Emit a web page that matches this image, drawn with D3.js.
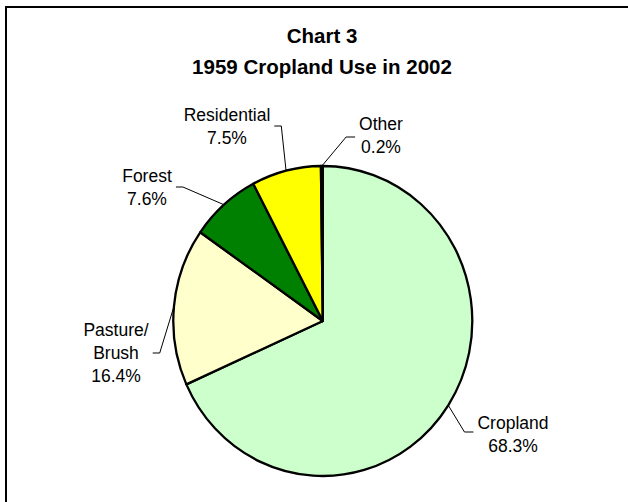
<!DOCTYPE html>
<html>
<head>
<meta charset="utf-8">
<script src="https://cdn.jsdelivr.net/npm/d3@7"></script>
<style>
  html, body { margin: 0; padding: 0; background: #fff; }
  svg { display: block; }
</style>
</head>
<body>
<svg id="chart" width="628" height="502"></svg>
<script>
// ---- Data ----
const categories = ["Cropland", "Pasture/\nBrush", "Forest", "Residential", "Other"];
const values = [68.3, 16.4, 7.6, 7.5, 0.2];
const valueLabels = ["68.3%", "16.4%", "7.6%", "7.5%", "0.2%"];
const titleLines = ["Chart 3", "1959 Cropland Use in 2002"];

// ---- Styles / layout ----
const colors = ["#CCFFCC", "#FFFFCC", "#008000", "#FFFF00", "#000000"];
const cx = 322.8, cy = 321, rx = 149.5, ry = 155;
const labelLayout = [
  { x: 513, y: 429, side: "left",  ly: 432 },
  { x: 116, y: 336, side: "right", ly: 353 },
  { x: 147, y: 182, side: "right", ly: 187 },
  { x: 227, y: 121, side: "right", ly: 126 },
  { x: 381, y: 130, side: "left",  ly: 137 }
];
const font = "'Liberation Sans', Arial, Helvetica, sans-serif";

const svg = d3.select("#chart");

// frame
svg.append("rect")
  .attr("x", 6).attr("y", 7).attr("width", 700).attr("height", 600)
  .attr("fill", "none").attr("stroke", "#000").attr("stroke-width", 2);

// title
const title = svg.append("text")
  .attr("text-anchor", "middle")
  .attr("font-family", font).attr("font-weight", "bold").attr("font-size", 20.5)
  .attr("fill", "#000");
title.selectAll("tspan").data(titleLines).join("tspan")
  .attr("x", 322).attr("y", (d, i) => 43 + i * 30.5).text(d => d);

// pie
const pie = d3.pie().sort(null).value(d => d)(values);
const R = 150;
const arc = d3.arc().innerRadius(0).outerRadius(R);

const g = svg.append("g")
  .attr("transform", `translate(${cx},${cy}) scale(${rx / R},${ry / R})`);
g.selectAll("path").data(pie).join("path")
  .attr("d", arc)
  .attr("fill", (d, i) => colors[i])
  .attr("stroke", "#000")
  .attr("stroke-width", 2.3)
  .attr("stroke-linejoin", "round")
  .attr("vector-effect", "non-scaling-stroke");

// labels + leader lines
const lineH = 23;
pie.forEach((d, i) => {
  const L = labelLayout[i];
  const lines = categories[i].split("\n").concat([valueLabels[i]]);
  const t = svg.append("text")
    .attr("text-anchor", "middle")
    .attr("font-family", font).attr("font-size", 17.5)
    .attr("fill", "#000");
  t.selectAll("tspan").data(lines).join("tspan")
    .attr("x", L.x).attr("y", (s, k) => L.y + k * lineH).text(s => s);
  const bb = t.node().getBBox();
  const a = (d.startAngle + d.endAngle) / 2;
  const ex = cx + rx * Math.sin(a), ey = cy - ry * Math.cos(a);
  const sx = L.side === "left" ? bb.x - 4 : bb.x + bb.width + 4;
  const elbow = L.side === "left" ? sx - 9 : sx + 7;
  svg.append("path")
    .attr("d", d3.line()([[sx, L.ly], [elbow, L.ly], [ex, ey]]))
    .attr("fill", "none").attr("stroke", "#000").attr("stroke-width", 1);
});
</script>
</body>
</html>
